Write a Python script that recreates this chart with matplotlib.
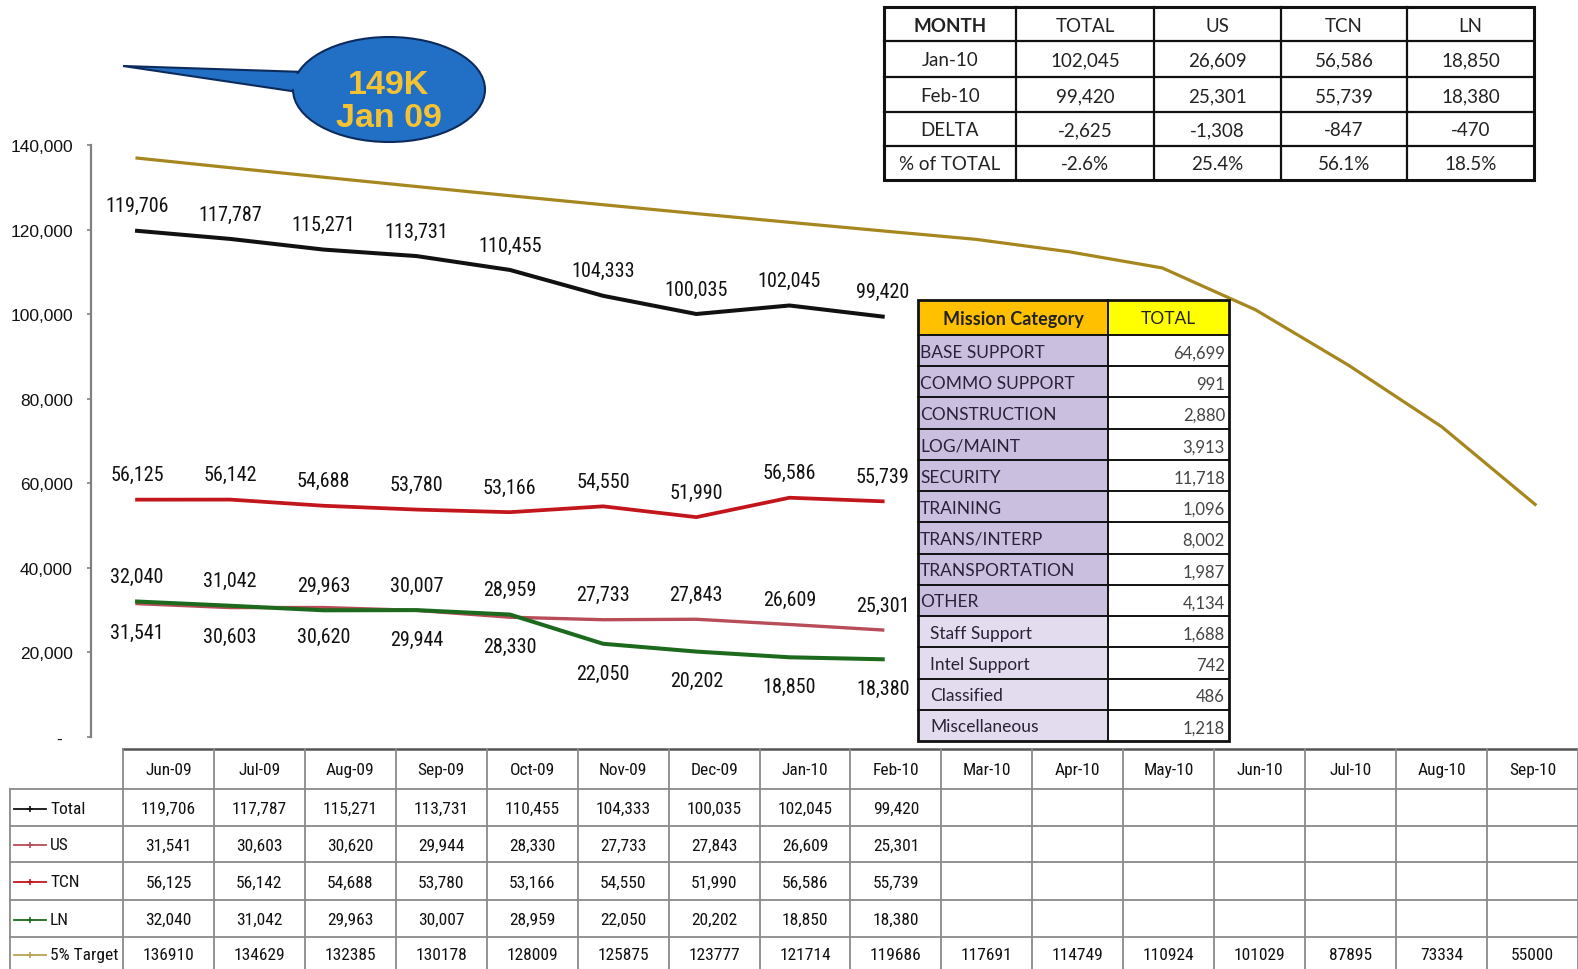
import matplotlib
matplotlib.use('Agg')
import matplotlib.pyplot as plt
import matplotlib.font_manager as fm
from matplotlib.patches import Rectangle, Ellipse, Polygon
from matplotlib.ticker import FuncFormatter

# ---------------- data ----------------
months = ['Jun-09', 'Jul-09', 'Aug-09', 'Sep-09', 'Oct-09', 'Nov-09', 'Dec-09', 'Jan-10',
          'Feb-10', 'Mar-10', 'Apr-10', 'May-10', 'Jun-10', 'Jul-10', 'Aug-10', 'Sep-10']
total = [119706, 117787, 115271, 113731, 110455, 104333, 100035, 102045, 99420]
us = [31541, 30603, 30620, 29944, 28330, 27733, 27843, 26609, 25301]
tcn = [56125, 56142, 54688, 53780, 53166, 54550, 51990, 56586, 55739]
ln = [32040, 31042, 29963, 30007, 28959, 22050, 20202, 18850, 18380]
target = [136910, 134629, 132385, 130178, 128009, 125875, 123777, 121714, 119686,
          117691, 114749, 110924, 101029, 87895, 73334, 55000]
row_labels = ['Total', 'US', 'TCN', 'LN', '5% Target']
y_ticks = [0, 20000, 40000, 60000, 80000, 100000, 120000, 140000]
# which of LN / US has its data label above the line, per month
ln_label_above = [True, True, True, True, True, False, False, False, False]

summary_header = ['MONTH', 'TOTAL', 'US', 'TCN', 'LN']
summary_months = ['Jan-10', 'Feb-10']

mission_categories = ['BASE SUPPORT', 'COMMO SUPPORT', 'CONSTRUCTION', 'LOG/MAINT', 'SECURITY',
                      'TRAINING', 'TRANS/INTERP', 'TRANSPORTATION', 'OTHER',
                      'Staff Support', 'Intel Support', 'Classified', 'Miscellaneous']
mission_totals = [64699, 991, 2880, 3913, 11718, 1096, 8002, 1987, 4134, 1688, 742, 486, 1218]
mission_is_sub = [False] * 9 + [True] * 4

callout_text = '149K\nJan 09'

# ---------------- fonts ----------------
def pick(*names):
    for n in names:
        try:
            fm.findfont(fm.FontProperties(family=n), fallback_to_default=False)
            return n
        except Exception:
            pass
    return 'DejaVu Sans'

NARROW = pick('Liberation Sans Narrow', 'Roboto Condensed', 'Liberation Sans')
ARIAL = pick('Liberation Sans', 'DejaVu Sans')
CALIBRI = pick('Lato', 'Open Sans', 'Liberation Sans')

# ---------------- colours ----------------
C_TOTAL = '#111111'
C_US = '#b84c58'
C_TCN = '#c3161c'
C_LN = '#1d6a1f'
C_TARGET = '#a6871f'

W, H = 1578, 970
fig = plt.figure(figsize=(W / 100, H / 100), dpi=100)
fig.patch.set_facecolor('white')

# main axes placed in pixel layout
ax_l, ax_r, ax_t, ax_b = 91, 1578, 146, 738
ax = fig.add_axes([ax_l / W, (H - ax_b) / H, (ax_r - ax_l) / W, (ax_b - ax_t) / H])
ax.set_xlim(-0.494, 15.46)
ax.set_ylim(0, 140000)
ax.patch.set_visible(False)

xs = list(range(len(months)))
n = len(total)
ax.plot(xs, target, color=C_TARGET, lw=2.3, zorder=3, solid_joinstyle='round')
ax.plot(xs[:n], us, color=C_US, lw=2.4, zorder=4, solid_joinstyle='round')
ax.plot(xs[:n], ln, color=C_LN, lw=2.9, zorder=4, solid_joinstyle='round')
ax.plot(xs[:n], tcn, color=C_TCN, lw=2.7, zorder=4, solid_joinstyle='round')
ax.plot(xs[:n], total, color=C_TOTAL, lw=2.9, zorder=5, solid_joinstyle='round')

ABOVE, BELOW = 18, -21


def lab(i, v, dy):
    ax.annotate(f'{v:,}', (i, v), xytext=(0, dy), textcoords='offset points',
                ha='center', va='center', fontsize=14.5, family=NARROW, color='#111111',
                zorder=6)


for i in range(n):
    lab(i, total[i], ABOVE)
    lab(i, tcn[i], ABOVE)
    if ln_label_above[i]:
        lab(i, ln[i], ABOVE)
        lab(i, us[i], BELOW)
    else:
        lab(i, us[i], ABOVE)
        lab(i, ln[i], BELOW)

for s in ['top', 'right', 'bottom']:
    ax.spines[s].set_visible(False)
ax.spines['left'].set_color('#808080')
ax.spines['left'].set_linewidth(1.6)
ax.set_xticks([])
ax.set_yticks(y_ticks)
ax.yaxis.set_major_formatter(FuncFormatter(lambda v, p: '-  ' if v == 0 else f'{v:,.0f}'))
ax.tick_params(axis='y', direction='out', length=3, width=1.2, color='#808080', pad=10,
               labelsize=12.5, labelcolor='#111111')
for t in ax.get_yticklabels():
    t.set_family(ARIAL)

# ---------------- overlay in pixel coordinates ----------------
ov = fig.add_axes([0, 0, 1, 1])
ov.set_xlim(0, W)
ov.set_ylim(H, 0)
ov.axis('off')
ov.patch.set_visible(False)

# callout
BLUE = '#2270c6'
EDGE = '#0c2b5c'
ov.add_patch(Polygon([(123, 67), (305, 73), (298, 93)], closed=True, fc=BLUE, ec=EDGE, lw=1.5, zorder=2))
ov.add_patch(Ellipse((389, 90.5), 192, 105, fc=BLUE, ec=EDGE, lw=1.5, zorder=3))
ov.add_patch(Polygon([(200, 71), (300, 75), (330, 75), (330, 90), (297, 90.5), (200, 77)],
                     closed=True, fc=BLUE, ec='none', zorder=4))
ov.text(389, 102, callout_text, ha='center', va='center', fontsize=24.5, fontweight='bold',
        family=ARIAL, color='#f4c233', linespacing=1.08, zorder=5)

# top summary table
jan_i, feb_i = 7, 8
series = [total, us, tcn, ln]
rows = [summary_header,
        [summary_months[0]] + [f'{s[jan_i]:,}' for s in series],
        [summary_months[1]] + [f'{s[feb_i]:,}' for s in series],
        ['DELTA'] + [f'{s[feb_i] - s[jan_i]:,}' for s in series],
        ['% of TOTAL', f'{(total[feb_i] - total[jan_i]) / total[jan_i] * 100:.1f}%']
        + [f'{s[feb_i] / total[feb_i] * 100:.1f}%' for s in series[1:]]]
tx = [884, 1016, 1154, 1281, 1407, 1534]
ty = [8, 42, 78, 113, 147, 181]
ov.add_patch(Rectangle((tx[0], ty[0]), tx[-1] - tx[0], ty[-1] - ty[0], fc='white', ec='#111111', lw=2.2, zorder=6))
for x in tx[1:-1]:
    ov.plot([x, x], [ty[0], ty[-1]], color='#111111', lw=1.6, zorder=7)
for y in ty[1:-1]:
    ov.plot([tx[0], tx[-1]], [y, y], color='#111111', lw=1.6, zorder=7)
for r, row in enumerate(rows):
    for c, val in enumerate(row):
        ov.text((tx[c] + tx[c + 1]) / 2, (ty[r] + ty[r + 1]) / 2 + 1, val, ha='center', va='center',
                fontsize=13.5, family=CALIBRI, color='#222222',
                fontweight='bold' if (r == 0 and c == 0) else 'normal', zorder=8)

# mission category table
mx = [918, 1108, 1229]
my0, my1, mbot = 301, 336, 742
rh = (mbot - my1) / len(mission_categories)
ov.add_patch(Rectangle((mx[0], my0), mx[1] - mx[0], my1 - my0, fc='#ffc000', ec='none', zorder=6))
ov.add_patch(Rectangle((mx[1], my0), mx[2] - mx[1], my1 - my0, fc='#ffff00', ec='none', zorder=6))
ov.text((mx[0] + mx[1]) / 2, (my0 + my1) / 2 + 1, 'Mission Category', ha='center', va='center',
        fontsize=13, fontweight='bold', family=CALIBRI, color='#222222', zorder=8)
ov.text((mx[1] + mx[2]) / 2, (my0 + my1) / 2 + 1, 'TOTAL', ha='center', va='center',
        fontsize=12.5, family=CALIBRI, color='#222222', zorder=8)
for k, (cat, val, sub) in enumerate(zip(mission_categories, mission_totals, mission_is_sub)):
    y0 = my1 + k * rh
    ov.add_patch(Rectangle((mx[0], y0), mx[1] - mx[0], rh, fc='#e2dcee' if sub else '#cbbfe0',
                           ec='none', zorder=6))
    ov.add_patch(Rectangle((mx[1], y0), mx[2] - mx[1], rh, fc='white', ec='none', zorder=6))
    ov.text(mx[0] + (12 if sub else 2), y0 + rh / 2 + 1, cat, ha='left', va='center',
            fontsize=12.5, family=CALIBRI, color='#2a2238', zorder=8)
    ov.text(mx[2] - 4, y0 + rh / 2 + 2, f'{val:,}', ha='right', va='center',
            fontsize=12, family=CALIBRI, color='#444444', zorder=8)
    ov.plot([mx[0], mx[2]], [y0, y0], color='#111111', lw=1.4, zorder=7)
ov.plot([mx[1], mx[1]], [my0, mbot], color='#111111', lw=1.4, zorder=7)
ov.add_patch(Rectangle((mx[0], my0), mx[2] - mx[0], mbot - my0, fc='none', ec='#111111', lw=2.0, zorder=7))

# bottom data table
bl, bc, br = 10, 123, 1578
cw = (br - bc) / len(months)
by = [750, 790, 827, 863, 901, 938, 972]
GRID = '#8a8a8a'
ov.plot([bc, br], [by[0], by[0]], color='#555555', lw=1.8, zorder=7)
for y in by[1:-1]:
    ov.plot([bl, br], [y, y], color=GRID, lw=1.3, zorder=7)
ov.plot([bl, bl], [by[1], by[-1]], color=GRID, lw=1.3, zorder=7)
for j in range(len(months) + 1):
    x = bc + j * cw
    ov.plot([x, x], [by[0], by[-1]], color=GRID, lw=1.3, zorder=7)
TFS = 12.5
for j, m in enumerate(months):
    ov.text(bc + (j + 0.5) * cw, (by[0] + by[1]) / 2 + 1, m, ha='center', va='center',
            fontsize=TFS, family=NARROW, color='#111111', zorder=8)
table_series = [total, us, tcn, ln, target]
table_colors = [C_TOTAL, C_US, C_TCN, C_LN, '#b9a250']
for r, (name, ser, col) in enumerate(zip(row_labels, table_series, table_colors)):
    yc = (by[r + 1] + by[r + 2]) / 2 + 1
    ov.plot([14, 46], [yc, yc], color=col, lw=1.3, zorder=8)
    ov.plot([30], [yc], marker='+', ms=5, mew=1.2, color=col, zorder=8)
    ov.text(50, yc, name, ha='left', va='center', fontsize=TFS, family=NARROW,
            color='#111111', zorder=8)
    for j, v in enumerate(ser):
        txt = f'{v}' if name == '5% Target' else f'{v:,}'
        ov.text(bc + (j + 0.5) * cw, yc, txt, ha='center', va='center', fontsize=TFS,
                family=NARROW, color='#111111', zorder=8)

fig.savefig('out.png', dpi=100, facecolor='white')
